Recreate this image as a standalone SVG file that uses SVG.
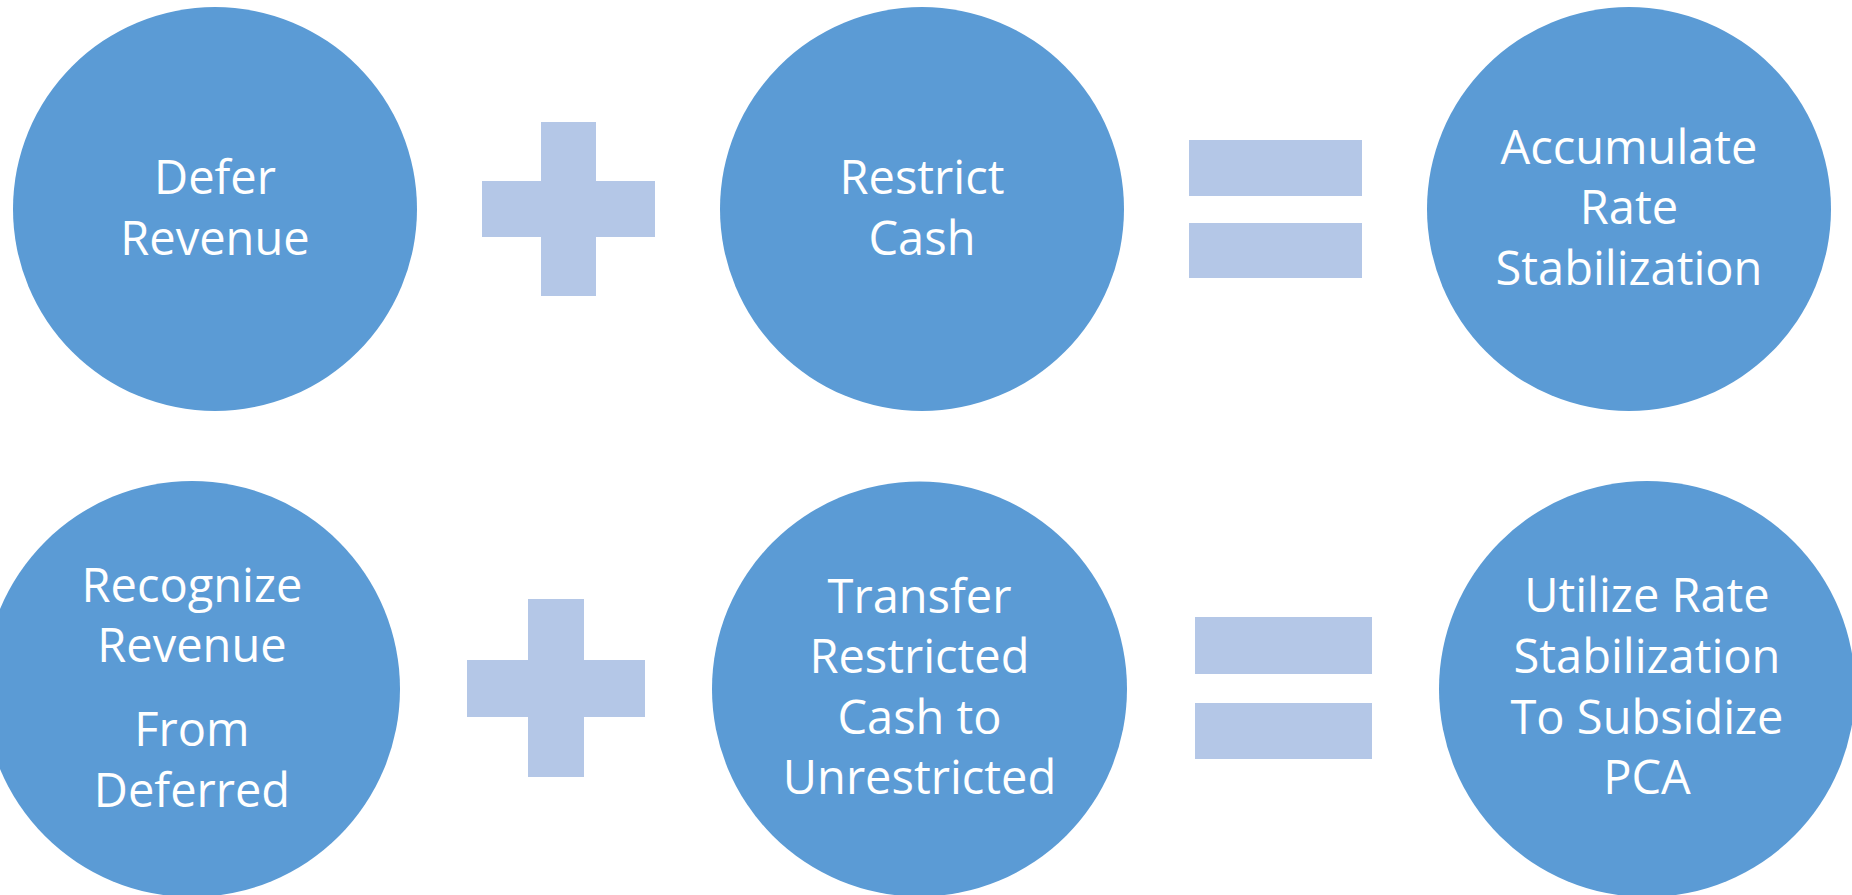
<svg xmlns="http://www.w3.org/2000/svg" width="1852" height="895" viewBox="0 0 1852 895">
  <style>
    .node { fill: #5B9BD5; }
    .op { fill: #B4C7E7; }
    .label { fill: #FFFFFF; font-family: "Open Sans", "Liberation Sans", sans-serif; font-size: 47px; text-anchor: middle; }
  </style>
  <rect width="1852" height="895" fill="#FFFFFF"/>

  <!-- top row: defer + restrict = accumulate -->
  <g id="defer-revenue">
    <circle class="node" cx="215" cy="209" r="202"/>
    <text class="label" x="215" y="194">Defer</text>
    <text class="label" x="215" y="255">Revenue</text>
  </g>
  <g id="restrict-cash">
    <circle class="node" cx="922" cy="209" r="202"/>
    <text class="label" x="922" y="194">Restrict</text>
    <text class="label" x="922" y="255">Cash</text>
  </g>
  <g id="accumulate-rate-stabilization">
    <circle class="node" cx="1629" cy="209" r="202"/>
    <text class="label" x="1629" y="164">Accumulate</text>
    <text class="label" x="1629" y="224">Rate</text>
    <text class="label" x="1629" y="285">Stabilization</text>
  </g>

  <!-- bottom row: recognize + transfer = utilize -->
  <g id="recognize-revenue">
    <circle class="node" cx="192" cy="689" r="208"/>
    <text class="label" x="192" y="602">Recognize</text>
    <text class="label" x="192" y="662">Revenue</text>
    <text class="label" x="192" y="746">From</text>
    <text class="label" x="192" y="807">Deferred</text>
  </g>
  <g id="transfer-restricted-cash">
    <circle class="node" cx="919.5" cy="689" r="207.5"/>
    <text class="label" x="919.5" y="613">Transfer</text>
    <text class="label" x="919.5" y="673">Restricted</text>
    <text class="label" x="919.5" y="734">Cash to</text>
    <text class="label" x="919.5" y="794">Unrestricted</text>
  </g>
  <g id="utilize-rate-stabilization">
    <circle class="node" cx="1647" cy="689" r="208"/>
    <text class="label" x="1647" y="612">Utilize Rate</text>
    <text class="label" x="1647" y="673">Stabilization</text>
    <text class="label" x="1647" y="734">To Subsidize</text>
    <text class="label" x="1647" y="794">PCA</text>
  </g>

  <!-- operator signs between the circles -->
  <g id="connectors">
    <g id="plus-top">
      <rect class="op" x="541" y="122" width="55" height="174"/>
      <rect class="op" x="482" y="181" width="173" height="56"/>
    </g>
    <g id="equals-top">
      <rect class="op" x="1189" y="140" width="173" height="56"/>
      <rect class="op" x="1189" y="223" width="173" height="55"/>
    </g>
    <g id="plus-bottom">
      <rect class="op" x="528" y="599" width="56" height="178"/>
      <rect class="op" x="467" y="660" width="178" height="57"/>
    </g>
    <g id="equals-bottom">
      <rect class="op" x="1195" y="617" width="177" height="57"/>
      <rect class="op" x="1195" y="703" width="177" height="56"/>
    </g>
  </g>
</svg>
